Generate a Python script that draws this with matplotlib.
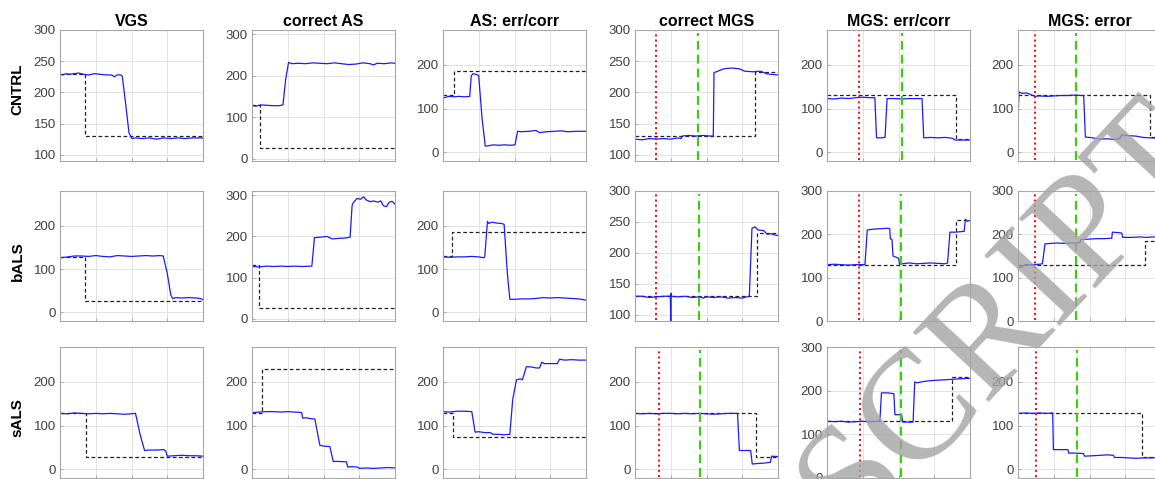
import numpy as np
import matplotlib.pyplot as plt

# Eye traces (blue) and target steps (black dashed), time in ms
cntrl_vgs_eye = [(0, 229), (40, 228), (80, 230), (130, 229), (200, 230), (260, 231), (330, 229), (400, 228),
                 (480, 230), (560, 229), (640, 228), (720, 228), (760, 225), (800, 228), (850, 228), (871, 226),
                 (920, 180), (965, 135), (1006, 126), (1050, 127), (1150, 126), (1250, 127), (1350, 125),
                 (1450, 127), (1550, 126), (1650, 127), (1750, 126), (1850, 127), (2000, 127)]
cntrl_vgs_target = [(0, 230), (343, 230), (343, 130), (2000, 130)]

cntrl_cas_eye = [(0, 128), (60, 127), (120, 130), (200, 129), (300, 128), (380, 128), (433, 130), (470, 190),
                 (511, 232), (560, 229), (650, 230), (750, 229), (850, 231), (950, 230), (1050, 229), (1150, 231),
                 (1250, 229), (1350, 227), (1450, 228), (1550, 231), (1650, 229), (1700, 226), (1750, 230),
                 (1850, 229), (1950, 231), (2000, 230)]
cntrl_cas_target = [(0, 130), (106, 130), (106, 26), (2000, 26)]

cntrl_ase_eye = [(0, 124), (40, 126), (80, 128), (150, 127), (220, 128), (300, 127), (374, 128), (395, 175),
                 (420, 180), (470, 178), (499, 176), (545, 80), (591, 14), (640, 15), (700, 17), (780, 16),
                 (860, 17), (940, 16), (1007, 17), (1044, 48), (1100, 47), (1200, 48), (1300, 50), (1350, 45),
                 (1450, 47), (1550, 48), (1650, 49), (1750, 47), (1850, 48), (2000, 48)]
cntrl_ase_target = [(0, 130), (158, 130), (158, 185), (2000, 185)]

cntrl_cmgs_eye = [(0, 125), (100, 124), (200, 126), (300, 125), (400, 126), (500, 125), (600, 127), (647, 126),
                  (660, 130), (750, 131), (850, 130), (950, 131), (1050, 130), (1095, 130), (1105, 232),
                  (1140, 233), (1200, 236), (1250, 238), (1350, 239), (1450, 238), (1500, 236), (1530, 234),
                  (1650, 233), (1750, 234), (1800, 232), (1830, 230), (1900, 229), (2000, 228)]
cntrl_cmgs_target = [(0, 130), (1672, 130), (1672, 232), (2000, 232)]

cntrl_mgse_eye = [(0, 123), (100, 122), (200, 124), (300, 123), (400, 125), (500, 126), (600, 125), (669, 125),
                  (693, 33), (760, 33), (812, 34), (840, 123), (950, 123), (1050, 122), (1150, 123), (1250, 123),
                  (1329, 123), (1353, 33), (1450, 34), (1550, 33), (1650, 34), (1755, 32), (1790, 28),
                  (1900, 28), (2000, 28)]
cntrl_mgse_target = [(0, 130), (1801, 130), (1801, 30), (2000, 30)]

cntrl_mgserr_eye = [(0, 78), (15, 138), (60, 135), (120, 136), (180, 132), (236, 128), (300, 129), (400, 128),
                    (500, 129), (600, 130), (700, 130), (800, 131), (880, 130), (919, 130), (942, 35),
                    (1000, 34), (1080, 32), (1150, 30), (1250, 31), (1350, 29), (1428, 32), (1450, 40),
                    (1550, 38), (1650, 37), (1750, 34), (1850, 33), (2000, 32)]
cntrl_mgserr_target = [(0, 130), (1843, 130), (1843, 35), (2000, 35)]

bals_vgs_eye = [(0, 126), (60, 127), (120, 128), (200, 130), (300, 130), (400, 129), (500, 131), (600, 129),
                (700, 128), (800, 131), (900, 130), (1000, 129), (1100, 130), (1200, 131), (1300, 130),
                (1400, 131), (1444, 130), (1500, 90), (1550, 40), (1576, 32), (1620, 34), (1700, 33),
                (1800, 34), (1900, 33), (1960, 32), (2000, 29)]
bals_vgs_target = [(0, 128), (353, 128), (353, 27), (2000, 27)]

bals_cas_eye = [(0, 127), (100, 126), (200, 128), (300, 127), (400, 128), (500, 127), (600, 128), (700, 127),
                (837, 128), (874, 197), (950, 198), (1050, 200), (1120, 194), (1200, 195), (1300, 196),
                (1372, 198), (1400, 275), (1418, 282), (1470, 292), (1520, 290), (1560, 296), (1600, 288),
                (1660, 284), (1700, 286), (1760, 283), (1800, 286), (1840, 274), (1880, 272), (1920, 283),
                (1960, 285), (2000, 278)]
bals_cas_target = [(0, 130), (98, 130), (98, 26), (2000, 26)]

bals_ase_eye = [(0, 128), (100, 127), (200, 128), (300, 128), (400, 129), (500, 128), (570, 126), (584, 128),
                (622, 210), (640, 205), (680, 208), (750, 206), (820, 205), (855, 203), (900, 90), (935, 30),
                (1000, 30), (1100, 31), (1200, 31), (1300, 32), (1400, 34), (1500, 33), (1600, 34),
                (1700, 33), (1800, 32), (1900, 31), (2000, 28)]
bals_ase_target = [(0, 130), (130, 130), (130, 185), (2000, 185)]

bals_cmgs_eye = [(0, 130), (100, 130), (200, 128), (300, 129), (400, 130), (495, 130), (500, 80), (505, 135),
                 (510, 130), (600, 129), (700, 130), (800, 128), (900, 129), (950, 127), (1000, 129),
                 (1100, 128), (1200, 129), (1300, 127), (1400, 128), (1500, 127), (1599, 130), (1636, 240),
                 (1680, 242), (1720, 237), (1800, 236), (1850, 230), (1900, 231), (1950, 229), (2000, 228)]
bals_cmgs_target = [(0, 130), (1701, 130), (1701, 232), (2000, 232)]

bals_mgse_eye = [(0, 130), (100, 131), (200, 130), (300, 129), (400, 130), (500, 130), (531, 130), (563, 210),
                 (650, 212), (750, 213), (850, 214), (878, 213), (885, 190), (909, 188), (923, 150),
                 (1000, 145), (1016, 130), (1050, 132), (1150, 134), (1250, 132), (1350, 133), (1450, 134),
                 (1550, 133), (1650, 132), (1686, 134), (1720, 205), (1800, 205), (1919, 207), (1935, 235),
                 (1960, 230), (2000, 232)]
bals_mgse_target = [(0, 130), (1801, 130), (1801, 232), (2000, 232)]

bals_mgserr_eye = [(0, 123), (60, 125), (90, 130), (200, 130), (300, 131), (341, 132), (378, 178), (450, 179),
                   (550, 180), (650, 179), (750, 180), (864, 181), (880, 188), (1000, 189), (1100, 190),
                   (1200, 190), (1311, 191), (1320, 205), (1400, 204), (1450, 203), (1465, 193), (1600, 193),
                   (1700, 194), (1800, 193), (1900, 194), (2000, 193)]
bals_mgserr_target = [(0, 130), (1783, 130), (1783, 185), (2000, 185)]

sals_vgs_eye = [(0, 128), (100, 127), (200, 129), (300, 128), (400, 127), (500, 128), (600, 127), (700, 128),
                (800, 127), (900, 126), (1000, 127), (1056, 128), (1120, 80), (1183, 43), (1250, 44),
                (1350, 44), (1450, 45), (1479, 42), (1500, 30), (1600, 31), (1700, 32), (1800, 31),
                (1900, 31), (2000, 30)]
sals_vgs_target = [(0, 130), (362, 130), (362, 27), (2000, 27)]

sals_cas_eye = [(0, 130), (100, 131), (200, 132), (300, 132), (400, 131), (500, 132), (600, 131), (694, 130),
                (710, 117), (750, 118), (820, 116), (879, 115), (920, 80), (949, 55), (1000, 53), (1089, 52),
                (1136, 18), (1200, 18), (1322, 17), (1340, 5), (1400, 6), (1480, 5), (1500, 2), (1600, 3),
                (1700, 2), (1800, 3), (1900, 4), (2000, 3)]
sals_cas_target = [(0, 130), (145, 130), (145, 230), (2000, 230)]

sals_ase_eye = [(0, 132), (100, 131), (200, 133), (300, 133), (403, 132), (449, 85), (500, 86), (580, 84),
                (657, 84), (700, 80), (780, 80), (850, 79), (935, 80), (975, 160), (1028, 205), (1080, 207),
                (1110, 205), (1167, 235), (1250, 234), (1300, 232), (1351, 232), (1380, 245), (1420, 242),
                (1500, 242), (1600, 242), (1630, 252), (1700, 250), (1800, 251), (1900, 250), (2000, 250)]
sals_ase_target = [(0, 130), (139, 130), (139, 75), (2000, 75)]

sals_cmgs_eye = [(0, 128), (100, 127), (200, 128), (300, 127), (400, 128), (500, 128), (600, 127), (700, 128),
                 (800, 127), (900, 128), (1000, 127), (1100, 126), (1200, 127), (1300, 128), (1434, 128),
                 (1460, 43), (1550, 43), (1618, 43), (1640, 12), (1700, 13), (1800, 14), (1894, 16),
                 (1910, 30), (2000, 29)]
sals_cmgs_target = [(0, 130), (1697, 130), (1697, 27), (2000, 27)]

sals_mgse_eye = [(0, 130), (100, 129), (200, 130), (300, 128), (400, 129), (500, 130), (600, 129), (700, 130),
                 (739, 130), (762, 195), (850, 195), (935, 193), (950, 145), (1043, 145), (1060, 128),
                 (1150, 128), (1204, 128), (1227, 220), (1260, 218), (1350, 221), (1450, 223), (1550, 224),
                 (1650, 225), (1750, 226), (1850, 227), (1950, 228), (2000, 228)]
sals_mgse_target = [(0, 130), (1755, 130), (1755, 232), (2000, 232)]

sals_mgserr_eye = [(0, 128), (100, 129), (200, 128), (300, 129), (400, 128), (485, 129), (495, 45), (600, 45),
                   (698, 45), (710, 37), (800, 37), (915, 36), (930, 30), (1050, 31), (1150, 32), (1250, 33),
                   (1335, 32), (1350, 27), (1450, 27), (1550, 26), (1650, 25), (1750, 26), (1850, 26),
                   (2000, 27)]
sals_mgserr_target = [(0, 130), (1736, 130), (1736, 27), (2000, 27)]

# cue (red dotted) and go-signal (green dashed) times for MGS columns
cue_times = [[300, 448, 236], [300, 448, 236], [336, 461, 245]]
go_times = [[877, 1043, 818], [902, 1030, 818], [916, 1034, 827]]

col_titles = ['VGS', 'correct AS', 'AS: err/corr', 'correct MGS', 'MGS: err/corr', 'MGS: error']
row_labels = ['CNTRL', 'bALS', 'sALS']

eyes = [[cntrl_vgs_eye, cntrl_cas_eye, cntrl_ase_eye, cntrl_cmgs_eye, cntrl_mgse_eye, cntrl_mgserr_eye],
        [bals_vgs_eye, bals_cas_eye, bals_ase_eye, bals_cmgs_eye, bals_mgse_eye, bals_mgserr_eye],
        [sals_vgs_eye, sals_cas_eye, sals_ase_eye, sals_cmgs_eye, sals_mgse_eye, sals_mgserr_eye]]
targets = [[cntrl_vgs_target, cntrl_cas_target, cntrl_ase_target, cntrl_cmgs_target, cntrl_mgse_target, cntrl_mgserr_target],
           [bals_vgs_target, bals_cas_target, bals_ase_target, bals_cmgs_target, bals_mgse_target, bals_mgserr_target],
           [sals_vgs_target, sals_cas_target, sals_ase_target, sals_cmgs_target, sals_mgse_target, sals_mgserr_target]]

# y-limits and ticks per panel
A = ((-20, 280), [0, 100, 200])
B = ((90, 300), [100, 150, 200, 250, 300])
C = ((-5, 310), [0, 100, 200, 300])
D = ((0, 300), [0, 100, 200, 300])
yspec = [[B, C, A, B, A, A],
         [A, C, A, B, D, D],
         [A, A, A, A, D, A]]

plt.rcParams['font.family'] = ['Liberation Sans', 'DejaVu Sans']

W, H = 1155, 479
fig = plt.figure(figsize=(W / 100, H / 100), dpi=100)

col_left = [60, 252, 443, 635, 827, 1018]
ax_w = 143
row_tb = [(30, 161), (191, 321), (347, 478)]

for r in range(3):
    for c in range(6):
        top, bot = row_tb[r]
        ax = fig.add_axes([col_left[c] / W, 1 - bot / H, ax_w / W, (bot - top) / H])
        e = np.array(eyes[r][c])
        tg = np.array(targets[r][c])
        ax.plot(tg[:, 0], tg[:, 1], color='#222222', lw=0.9, dashes=(3, 2))
        ax.plot(e[:, 0], e[:, 1], color='#1a1aff', lw=0.9)
        if c >= 3:
            ax.axvline(cue_times[r][c - 3], ymin=0.01, ymax=0.99, color='red', lw=1.4, ls=':')
            ax.axvline(go_times[r][c - 3], ymin=0.01, ymax=0.98, color='#3fcc10', lw=1.6, dashes=(4, 2.2))
        ylim, yt = yspec[r][c]
        ax.set_ylim(*ylim)
        ax.set_yticks(yt)
        ax.set_xlim(0, 2000)
        ax.set_xticks([0, 500, 1000, 1500, 2000])
        ax.set_xticklabels([])
        ax.grid(True, color='#e3e3e3', lw=0.7)
        ax.set_axisbelow(True)
        ax.tick_params(direction='in', length=2.5, width=0.6, colors='#a0a0a0',
                       labelcolor='#404040', labelsize=9.5, pad=3)
        for s in ax.spines.values():
            s.set_color('#a8a8a8')
            s.set_linewidth(0.8)
        if r == 0:
            ax.set_title(col_titles[c], fontsize=11.5, fontweight='bold', pad=3)

# row labels
for lab, yc in zip(row_labels, [89, 261, 418]):
    fig.text(17.5 / W, 1 - yc / H, lab, rotation=90, ha='center', va='center',
             fontsize=11, fontweight='bold')

# watermark (cut off by the right and bottom edges, as in the source image)
fig.text(1005 / W, 1 - 318 / H, 'SCRIPT', rotation=47, ha='center', va='center',
         fontsize=112, family='Liberation Serif', color='#a3a3a3', alpha=0.8, zorder=10)

fig.savefig('out.png', dpi=100)
